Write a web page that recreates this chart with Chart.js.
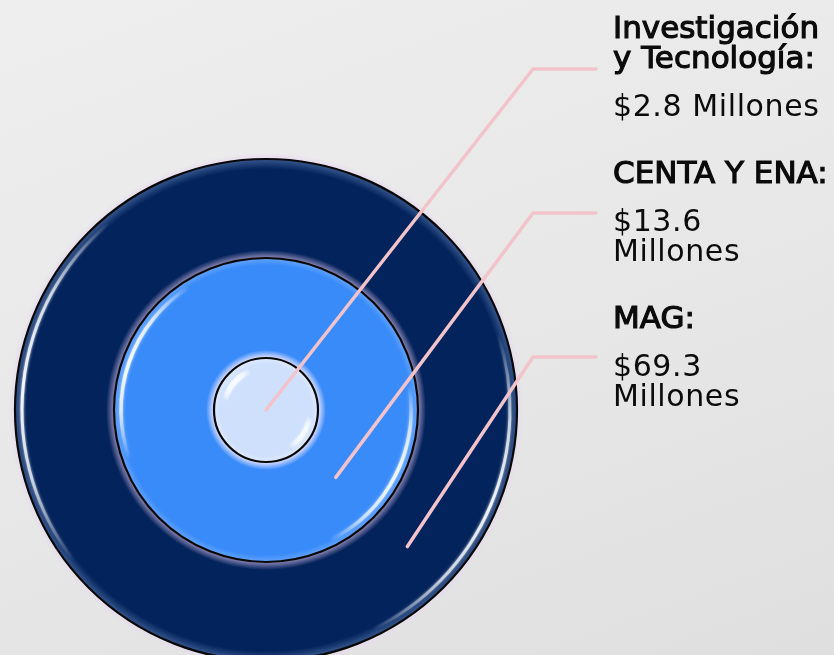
<!DOCTYPE html>
<html><head><meta charset="utf-8">
<script src="https://cdn.jsdelivr.net/npm/chart.js@4/dist/chart.umd.min.js"></script>
<style>
html,body{margin:0;padding:0;overflow:hidden;width:834px;height:655px;}
body{background:linear-gradient(160deg,#eeeeee 0%,#e8e8e8 50%,#dfdfdf 100%);}
canvas{display:block;}
</style></head><body>
<canvas id="c" width="834" height="700"></canvas>
<script>
// ---- data ----
const categories = ['MAG', 'CENTA Y ENA', 'Investigación y Tecnología'];
const values = [69.3, 13.6, 2.8];
const titleLines = [['MAG:'], ['CENTA Y ENA:'], ['Investigación', 'y Tecnología:']];
const valueLines = [['$69.3', 'Millones'], ['$13.6', 'Millones'], ['$2.8 Millones']];
const ringColors = ['#02235b', '#3a8bfa', '#cfe0fd'];
const ringWeights = [99, 100, 52];

// ---- styling helpers ----
const glowSpec = [
  {w: 6, c: '232,218,240', a: 0.9},
  {w: 8, c: '190,170,215', a: 0.75},
  {w: 8, c: '238,232,255', a: 0.95}
];
const bevelSpec = [
  {w: 10, c: '110,140,195', a: 0.5},
  {w: 7, c: '200,225,255', a: 0.3},
  {w: 6, c: '255,255,255', a: 0.35}
];
const highlightSpec = [
  [{a0: 142, a1: 230, inset: 7, lw: 3, al: 0.95}, {a0: -18, a1: 64, inset: 7, lw: 3, al: 0.9}],
  [{a0: 160, a1: 238, inset: 7, lw: 3.5, al: 0.95}, {a0: -10, a1: 64, inset: 7, lw: 3.5, al: 0.9}],
  [{a0: 192, a1: 248, inset: 10, lw: 5, al: 1}, {a0: 8, a1: 58, inset: 8, lw: 4.5, al: 1}]
];
const TAU = Math.PI * 2;
const rad = d => d * Math.PI / 180;

const decor = {
  id: 'decor',
  afterDatasetsDraw(chart) {
    const ctx = chart.ctx;
    const n = chart.data.datasets.length;
    for (let i = 0; i < n; i++) {
      const arc = chart.getDatasetMeta(i).data[0];
      const {x, y, outerRadius: R} = arc.getProps(['x', 'y', 'outerRadius'], true);
      // outer glow (outside circle)
      const gs = glowSpec[i];
      ctx.save();
      ctx.beginPath();
      ctx.rect(0, 0, chart.width, chart.height);
      ctx.arc(x, y, R, 0, TAU, true);
      ctx.clip();
      const g = ctx.createRadialGradient(x, y, R, x, y, R + gs.w);
      g.addColorStop(0, `rgba(${gs.c},${gs.a})`);
      g.addColorStop(1, `rgba(${gs.c},0)`);
      ctx.fillStyle = g;
      ctx.beginPath(); ctx.arc(x, y, R + gs.w, 0, TAU); ctx.fill();
      ctx.restore();
      // inner bevel + highlights (inside circle)
      ctx.save();
      ctx.beginPath(); ctx.arc(x, y, R, 0, TAU); ctx.clip();
      const bs = bevelSpec[i];
      const bg = ctx.createRadialGradient(x, y, R - bs.w, x, y, R);
      bg.addColorStop(0, `rgba(${bs.c},0)`);
      bg.addColorStop(1, `rgba(${bs.c},${bs.a})`);
      ctx.fillStyle = bg;
      ctx.beginPath(); ctx.arc(x, y, R, 0, TAU); ctx.arc(x, y, R - bs.w, 0, TAU, true); ctx.fill();
      ctx.shadowColor = 'rgba(255,255,255,1)';
      ctx.shadowBlur = 3;
      ctx.lineCap = 'butt';
      highlightSpec[i].forEach(h => {
        const span = (h.a1 - h.a0) / 360;
        const cg = ctx.createConicGradient(rad(h.a0), x, y);
        cg.addColorStop(0, 'rgba(245,250,255,0)');
        cg.addColorStop(span * 0.25, `rgba(245,250,255,${h.al * 0.7})`);
        cg.addColorStop(span * 0.5, `rgba(245,250,255,${h.al})`);
        cg.addColorStop(span * 0.75, `rgba(245,250,255,${h.al * 0.7})`);
        cg.addColorStop(span, 'rgba(245,250,255,0)');
        cg.addColorStop(Math.min(1, span + 0.001), 'rgba(245,250,255,0)');
        ctx.strokeStyle = cg;
        ctx.lineWidth = h.lw;
        ctx.beginPath();
        ctx.arc(x, y, R - h.inset, rad(h.a0), rad(h.a1));
        ctx.stroke();
      });
      ctx.restore();
    }
    // black borders
    for (let i = 0; i < n; i++) {
      const arc = chart.getDatasetMeta(i).data[0];
      const {x, y, outerRadius: R} = arc.getProps(['x', 'y', 'outerRadius'], true);
      ctx.save();
      ctx.strokeStyle = '#080808';
      ctx.lineWidth = 2.2;
      ctx.beginPath(); ctx.arc(x, y, R, 0, TAU); ctx.stroke();
      ctx.restore();
    }
  },
  afterDraw(chart) {
    const ctx = chart.ctx;
    const n = chart.data.datasets.length;
    const elbowX = 533, endX = 596, textX = 613;
    const elbowY0 = 69, elbowStep = 144;
    const blockY0 = 38, blockStep = 145, lineH = 30, gap = 48;
    for (let k = 0; k < n; k++) {
      const d = n - 1 - k; // top label = innermost ring
      const arc = chart.getDatasetMeta(d).data[0];
      const {x, y, innerRadius: r0, outerRadius: R} = arc.getProps(['x', 'y', 'innerRadius', 'outerRadius'], true);
      const rr = r0 === 0 ? 0 : r0 + 0.45 * (R - r0);
      const ang = rad(44);
      const sx = x + rr * Math.cos(ang), sy = y + rr * Math.sin(ang);
      const ey = elbowY0 + elbowStep * k;
      ctx.save();
      ctx.strokeStyle = '#f2c3ca';
      ctx.lineWidth = 3.5;
      ctx.lineCap = 'round';
      ctx.lineJoin = 'round';
      ctx.beginPath();
      ctx.moveTo(sx, sy); ctx.lineTo(elbowX, ey); ctx.lineTo(endX, ey);
      ctx.stroke();
      ctx.restore();
      // text
      ctx.save();
      ctx.fillStyle = '#0b0b0b';
      ctx.strokeStyle = '#0b0b0b';
      ctx.textBaseline = 'alphabetic';
      ctx.textAlign = 'left';
      let by = blockY0 + blockStep * k;
      ctx.font = '31px "DejaVu Sans"';
      ctx.letterSpacing = '0px';
      ctx.lineWidth = 1.2;
      titleLines[d].forEach((t, j) => {
        ctx.fillText(t, textX, by + j * lineH);
        ctx.strokeText(t, textX, by + j * lineH);
      });
      by += (titleLines[d].length - 1) * lineH + gap;
      ctx.font = '30px "DejaVu Sans"';
      ctx.letterSpacing = '0.6px';
      valueLines[d].forEach((t, j) => {
        ctx.fillText(t, textX, by + j * lineH);
      });
      ctx.restore();
    }
  }
};

new Chart(document.getElementById('c'), {
  type: 'doughnut',
  data: {
    labels: categories,
    datasets: values.map((v, i) => ({
      label: categories[i],
      data: [v],
      backgroundColor: ringColors[i],
      borderWidth: 0,
      hoverBorderWidth: 0,
      hoverOffset: 0,
      offset: 0,
      weight: ringWeights[i]
    }))
  },
  options: {
    responsive: false,
    animation: false,
    events: [],
    cutout: 0,
    layout: {padding: {left: 15, top: 159, right: 317, bottom: 39}},
    plugins: {legend: {display: false}, tooltip: {enabled: false}}
  },
  plugins: [decor]
});
</script>
</body></html>
